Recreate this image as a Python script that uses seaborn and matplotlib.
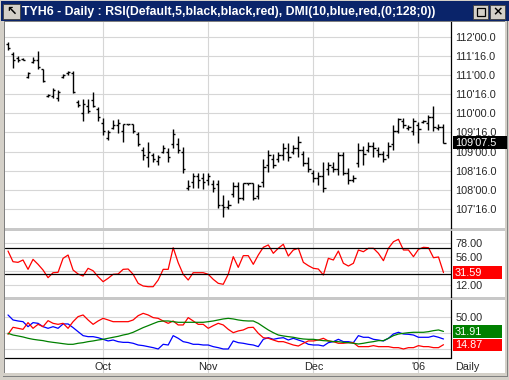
import matplotlib
matplotlib.use("Agg")
import matplotlib.pyplot as plt
import matplotlib.transforms as mtransforms
from matplotlib.patches import Rectangle
import numpy as np
import seaborn as sns

# ---- TYH6 daily bars (prices in points, 1/32 ticks) ----
opens = [111.80, 111.55, 111.45, 111.42, 110.95, 111.35, 111.40, 111.16, 110.45, 110.45,
         110.40, 110.95, 111.05, 111.05, 110.30, 110.00, 110.20, 110.35, 110.10, 109.75,
         109.35, 109.62, 109.70, 109.55, 109.72, 109.72, 109.45, 109.05, 108.85, 108.90,
         108.75, 109.00, 109.00, 109.20, 109.20, 109.00, 108.05, 108.20, 108.35, 108.30,
         108.25, 108.15, 108.15, 107.60, 107.55, 107.90, 108.10, 107.80, 108.18, 108.18,
         107.85, 108.20, 108.65, 108.80, 108.80, 108.90, 109.00, 109.00, 109.10, 108.95,
         108.70, 108.45, 108.30, 108.35, 108.55, 108.60, 108.55, 108.90, 108.45, 108.25,
         108.70, 109.05, 109.05, 109.15, 109.05, 108.95, 108.90, 109.20, 109.55, 109.80,
         109.62, 109.55, 109.70, 109.78, 109.75, 109.90, 109.62, 109.65]
highs = [111.87, 111.61, 111.50, 111.45, 111.09, 111.46, 111.63, 111.16, 110.50, 110.67,
         110.61, 111.02, 111.10, 111.10, 110.35, 110.38, 110.37, 110.55, 110.17, 109.89,
         109.56, 109.83, 109.85, 109.72, 109.72, 109.72, 109.51, 109.12, 109.25, 108.96,
         108.91, 109.17, 109.09, 109.59, 109.35, 109.12, 108.26, 108.44, 108.44, 108.44,
         108.44, 108.26, 108.26, 107.87, 107.74, 108.21, 108.21, 108.18, 108.18, 108.18,
         108.16, 108.81, 109.04, 108.94, 108.99, 109.22, 109.22, 109.17, 109.41, 109.02,
         108.86, 108.52, 108.47, 108.73, 108.73, 108.73, 108.99, 108.99, 108.57, 108.39,
         109.22, 109.14, 109.25, 109.25, 109.12, 109.02, 109.25, 109.69, 109.88, 109.88,
         109.69, 109.88, 109.77, 109.83, 109.96, 110.19, 109.72, 109.72]
lows = [111.65, 111.17, 111.35, 111.39, 110.91, 111.31, 111.16, 110.81, 110.42, 110.39,
        110.32, 110.91, 111.00, 110.52, 110.17, 109.79, 110.00, 110.17, 109.80, 109.43,
        109.30, 109.59, 109.48, 109.25, 109.69, 109.48, 109.15, 108.78, 108.60, 108.73,
        108.65, 108.96, 108.73, 109.09, 108.96, 108.44, 108.00, 108.05, 108.05, 108.02,
        108.13, 107.95, 107.53, 107.29, 107.50, 107.82, 107.66, 107.74, 108.13, 107.74,
        107.77, 108.08, 108.47, 108.57, 108.73, 108.78, 108.75, 108.94, 108.86, 108.62,
        108.47, 108.21, 108.13, 107.95, 108.39, 108.47, 108.39, 108.39, 108.15, 108.21,
        108.60, 108.65, 108.99, 108.86, 108.86, 108.73, 108.83, 109.04, 109.49, 109.62,
        109.56, 109.43, 109.22, 109.75, 109.56, 109.54, 109.56, 109.23]
closes = [111.70, 111.40, 111.38, 111.40, 111.05, 111.40, 111.20, 110.85, 110.47, 110.60,
          110.55, 111.00, 111.08, 110.55, 110.22, 110.25, 110.05, 110.20, 109.90, 109.55,
          109.50, 109.70, 109.75, 109.72, 109.72, 109.55, 109.20, 108.90, 109.00, 108.80,
          108.85, 109.10, 108.85, 109.45, 109.05, 108.55, 108.10, 108.35, 108.25, 108.20,
          108.35, 108.05, 107.60, 107.55, 107.60, 108.10, 107.80, 108.18, 108.18, 107.80,
          108.10, 108.60, 108.90, 108.65, 108.90, 109.10, 108.85, 109.10, 109.25, 108.70,
          108.55, 108.30, 108.35, 108.05, 108.65, 108.55, 108.90, 108.45, 108.25, 108.30,
          109.05, 108.95, 109.15, 109.10, 108.95, 108.80, 109.15, 109.55, 109.85, 109.70,
          109.65, 109.80, 109.60, 109.80, 109.90, 109.65, 109.65, 109.234375]

# ---- RSI(5) ----
rsi = [65.4, 48.6, 47.6, 51.3, 36.6, 52.3, 44.5, 35.5, 23.5, 31.3,
       31.9, 53.9, 59.1, 35.5, 29.3, 26.1, 38.2, 34.4, 25.0, 17.2,
       22.5, 28.8, 29.3, 36.6, 37.1, 28.8, 14.6, 10.4, 9.3, 9.3,
       19.8, 36.6, 36.6, 70.6, 47.0, 28.8, 19.8, 31.3, 31.3, 31.3,
       28.8, 20.9, 14.6, 13.1, 28.8, 56.5, 39.7, 58.1, 58.1, 44.5,
       59.1, 71.2, 74.9, 61.8, 69.7, 76.0, 57.5, 67.0, 69.7, 47.6,
       42.4, 38.2, 37.1, 27.7, 53.9, 51.3, 65.4, 46.1, 41.8, 46.1,
       67.0, 64.3, 69.7, 69.7, 61.8, 50.2, 69.7, 80.0, 83.8, 67.0,
       67.0, 56.5, 68.1, 71.2, 70.6, 54.9, 56.0, 31.59]

# ---- DMI(10): +DI blue, -DI red, ADX green ----
plus_di = [53.0, 46.6, 45.3, 44.4, 38.0, 43.2, 42.3, 38.0, 35.9, 38.0,
           35.9, 41.5, 41.5, 36.8, 31.6, 26.5, 25.2, 25.2, 23.9, 21.8,
           19.7, 20.9, 18.8, 17.9, 17.9, 16.7, 14.5, 13.7, 12.4, 11.1,
           9.4, 15.4, 14.5, 26.5, 23.1, 18.8, 17.5, 15.4, 15.4, 14.5,
           14.5, 12.4, 11.1, 9.4, 9.4, 19.7, 17.5, 16.7, 15.4, 14.5,
           12.4, 21.8, 23.9, 21.8, 23.1, 23.9, 20.9, 23.1, 20.9, 18.8,
           15.4, 14.5, 14.5, 13.2, 17.5, 18.8, 21.8, 18.8, 18.8, 17.5,
           26.5, 24.4, 24.4, 21.8, 20.9, 19.7, 23.1, 28.6, 30.8, 28.6,
           28.2, 27.3, 24.4, 24.4, 24.4, 26.1, 24.4, 22.2]
minus_di = [28.2, 37.2, 35.9, 34.6, 43.2, 35.9, 41.0, 38.0, 45.7, 42.3,
            41.0, 42.3, 35.9, 44.4, 50.9, 53.0, 46.6, 41.0, 45.3, 48.7,
            46.6, 44.4, 44.4, 44.4, 44.4, 46.6, 52.1, 55.1, 53.0, 49.6,
            48.7, 45.3, 42.3, 45.3, 40.2, 40.2, 49.6, 45.3, 41.0, 41.0,
            35.9, 39.3, 42.3, 40.2, 34.6, 30.3, 32.5, 33.8, 36.8, 37.2,
            29.5, 23.9, 23.1, 20.9, 18.8, 18.8, 16.7, 14.5, 13.2, 16.7,
            19.7, 19.7, 20.9, 23.1, 19.7, 18.8, 16.7, 16.7, 17.5, 17.5,
            12.4, 12.4, 12.4, 13.7, 12.4, 12.4, 12.4, 11.1, 11.1, 9.4,
            11.1, 11.1, 13.7, 12.4, 12.4, 11.1, 11.1, 14.87]
adx = [29.5, 27.3, 26.1, 24.8, 23.1, 21.8, 20.9, 20.1, 18.8, 17.9,
       17.1, 16.2, 15.4, 15.4, 16.7, 17.5, 18.8, 19.7, 20.9, 21.8,
       23.1, 24.4, 25.6, 27.3, 28.6, 30.8, 33.8, 36.8, 39.3, 41.9,
       44.4, 45.3, 45.3, 44.4, 43.6, 43.6, 43.6, 43.6, 43.6, 43.6,
       44.4, 45.3, 46.6, 47.9, 48.7, 47.9, 46.6, 45.7, 45.3, 45.3,
       42.3, 38.0, 33.8, 30.3, 27.3, 26.1, 25.2, 24.4, 23.1, 22.2,
       21.8, 21.8, 20.9, 20.1, 19.7, 18.8, 18.8, 17.9, 17.5, 16.7,
       15.8, 16.7, 17.9, 18.8, 20.1, 20.1, 23.1, 26.5, 28.6, 29.5,
       30.3, 30.8, 30.8, 30.8, 31.6, 32.9, 33.8, 31.91]

# month starts (bar index) and labels
month_pos = [19, 40, 61, 82]
month_labels = ["Oct", "Nov", "Dec", "'06"]

title = "TYH6 - Daily : RSI(Default,5,black,black,red), DMI(10,blue,red,(0;128;0))"

W, H = 510, 380
FRAME = "#D4D0C8"
GRID = "#D6D6D6"
FS = 7.8


def fig_rect(x0, y0, x1, y1):
    return [x0 / W, 1 - y1 / H, (x1 - x0) / W, (y1 - y0) / H]


def price_label(p):
    whole = int(p)
    return f"{whole}'{(p - whole) * 32:04.1f}"


sns.set_style("white")
plt.rcParams["font.family"] = ["Liberation Sans", "DejaVu Sans"]

fig = plt.figure(figsize=(W / 100, H / 100), dpi=100, facecolor=FRAME)


def add_box(x0, y0, x1, y1, color, z=1, edge="none", lw=0):
    fig.add_artist(Rectangle((x0 / W, 1 - y1 / H), (x1 - x0) / W, (y1 - y0) / H,
                             transform=fig.transFigure, facecolor=color,
                             edgecolor=edge, linewidth=lw, zorder=z))


# 1. Window chrome
add_box(1, 1, 509, 20.5, "#0A246A")
add_box(3, 4, 20, 19, FRAME, z=2, edge="#404040", lw=0.6)
fig.text(11.5 / W, 1 - 11.5 / H, "\u2196", family="DejaVu Sans", fontsize=9,
         fontweight="bold", color="black", ha="center", va="center", zorder=3)
fig.text(22 / W, 1 - 11.5 / H, title, color="white", fontsize=8.8,
         fontweight="bold", ha="left", va="center", zorder=3)
add_box(473, 5, 488.5, 18.5, FRAME, z=2, edge="#404040", lw=0.6)
add_box(477, 8, 485, 15.5, "none", z=3, edge="black", lw=0.9)
add_box(477, 8, 485, 9.2, "black", z=3)
add_box(490, 5, 505.5, 18.5, FRAME, z=2, edge="#404040", lw=0.6)
fig.text(497.8 / W, 1 - 11.8 / H, "\u00d7", family="DejaVu Sans", fontsize=9,
         fontweight="bold", color="black", ha="center", va="center", zorder=3)

add_box(5, 22, 505, 373, "white", z=-3)
add_box(4, 21, 505, 22, "#808080", z=-2)
add_box(4, 21, 5, 373, "#808080", z=-2)
add_box(3, 376, 508, 377, "#808080", z=-2)
add_box(507, 21, 508, 377, "#808080", z=-2)
add_box(5, 227.5, 505, 230.5, "#C8C8C8", z=-2)
add_box(5, 296.5, 505, 300, "#C8C8C8", z=-2)

# 2. Panels
ax_p = fig.add_axes(fig_rect(5, 22, 451.5, 227.5))
ax_r = fig.add_axes(fig_rect(5, 230.5, 451.5, 296.5))
ax_d = fig.add_axes(fig_rect(5, 300, 451.5, 373))

idx = np.arange(len(closes))
for ax in (ax_p, ax_r, ax_d):
    ax.set_facecolor("white")
    for side in ("left", "top", "bottom"):
        ax.spines[side].set_visible(False)
    ax.spines["right"].set_color("black")
    ax.spines["right"].set_linewidth(0.9)
    ax.set_xlim(-0.6, 88.6)
    ax.set_xticks(month_pos)
    ax.set_xticklabels([])
    ax.yaxis.tick_right()
    ax.tick_params(axis="both", length=0, labelsize=FS, pad=2.6)
    ax.grid(True, color=GRID, linewidth=0.8)
    ax.set_axisbelow(True)

# price bars
ax_p.vlines(idx, lows, highs, color="black", linewidth=1.0)
ax_p.hlines(opens, idx - 0.45, idx, color="black", linewidth=1.0)
ax_p.hlines(closes, idx, idx + 0.45, color="black", linewidth=1.0)
ax_p.set_ylim(107.018, 112.384)
price_ticks = np.arange(107.5, 112.01, 0.5)
ax_p.set_yticks(price_ticks)
ax_p.set_yticklabels([price_label(p) for p in price_ticks])

# RSI
sns.lineplot(x=idx, y=rsi, ax=ax_r, color="#FF0000", linewidth=0.9)
ax_r.axhline(70, color="black", linewidth=0.9)
ax_r.axhline(30, color="black", linewidth=0.9)
ax_r.set_ylim(-6.1, 97.65)
ax_r.set_yticks([12, 34, 56, 78])
ax_r.set_yticklabels(["12.00", "", "56.00", "78.00"])

# DMI
sns.lineplot(x=idx, y=plus_di, ax=ax_d, color="#0000FF", linewidth=0.9)
sns.lineplot(x=idx, y=minus_di, ax=ax_d, color="#FF0000", linewidth=0.9)
sns.lineplot(x=idx, y=adx, ax=ax_d, color="#008000", linewidth=0.9)
ax_d.set_ylim(-21.4, 72.2)
ax_d.set_yticks([10, 30, 50])
ax_d.set_yticklabels(["", "", "50.00"])
ax_d.spines["right"].set_bounds(-2.2, 72.2)
ax_d.axhline(-2.2, color="black", linewidth=0.9)
for pos, lab in zip(month_pos, month_labels):
    ax_d.text(pos, 0.085, lab, transform=ax_d.get_xaxis_transform(),
              fontsize=FS, ha="center", va="center")
fig.text(455 / W, 1 - 367 / H, "Daily", fontsize=FS, ha="left", va="center")

for ax in (ax_p, ax_r, ax_d):
    ax.set_xlabel("")
    ax.set_ylabel("")


# 3. Last-value boxes on the right scale
def value_box(ax, value, text, face, width=0.49):
    anchor = mtransforms.blended_transform_factory(ax.transAxes, ax.transData)
    tr = fig.dpi_scale_trans + mtransforms.ScaledTranslation(1, value, anchor)
    ax.add_patch(Rectangle((0.02, -0.062), width, 0.124, transform=tr,
                           facecolor=face, edgecolor="none", clip_on=False, zorder=5))
    ax.text(0.035, -0.003, text, transform=tr, color="white", fontsize=FS,
            ha="left", va="center", clip_on=False, zorder=6)


value_box(ax_p, closes[-1], price_label(closes[-1]), "black", width=0.535)
value_box(ax_r, rsi[-1], f"{rsi[-1]:.2f}", "#FF0000")
value_box(ax_d, adx[-1], f"{adx[-1]:.2f}", "#008000")
value_box(ax_d, minus_di[-1], f"{minus_di[-1]:.2f}", "#FF0000")

fig.savefig("out.png", dpi=100, facecolor=FRAME)
